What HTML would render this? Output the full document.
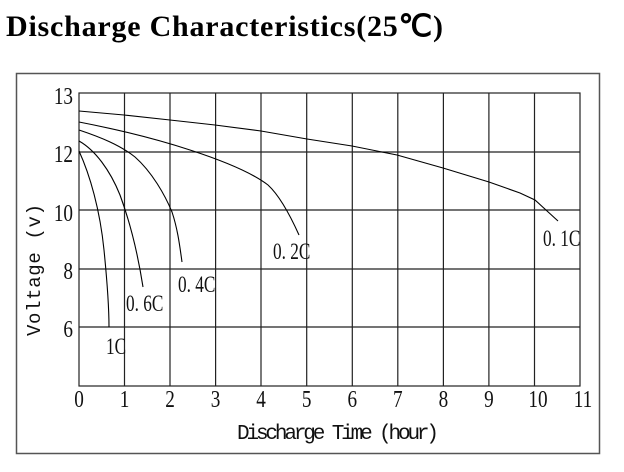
<!DOCTYPE html><html><head><style>body{margin:0;background:#fff}</style></head><body>
<svg width="624" height="467" xmlns="http://www.w3.org/2000/svg" font-family="Liberation Serif, serif">
<rect width="624" height="467" fill="#fff"/>
<text x="6" y="36" font-size="30" font-weight="bold" textLength="437">Discharge Characteristics(25℃)</text>
<rect x="16.5" y="73.5" width="583" height="380" fill="none" stroke="#555" stroke-width="1.5"/>
<g stroke="#222" stroke-width="1.2" fill="none">
<rect x="79" y="93" width="501" height="293"/>
<path d="M79 152H580M79 210H580M79 269H580M79 327H580"/>
<path d="M124.5 93V386M170 93V386M215.6 93V386M261 93V386M306.7 93V386M352.3 93V386M397.8 93V386M443.4 93V386M488.9 93V386M534.5 93V386"/>
</g>
<g stroke="#000" stroke-width="1.1" fill="none">
<path d="M79 111 L124 115 L170 120 L215 125 L261 131 L307 139 L352 146 L397 155 L443 168 L489 182 L520 193 L535 200 L558 221"/>
<path d="M79 122 C110 128 150 137 190 150 C230 163 255 175 268 185 C280 196 290 215 299 235"/>
<path d="M79 130 C100 137 120 145 135 157 C152 172 165 195 172 212 C178 230 180 248 182 262"/>
<path d="M79 141 C95 150 110 170 120 195 C130 222 138 255 143 287"/>
<path d="M79 151 C90 175 100 210 104 250 C107 280 109 305 109 327"/>
</g>
<g font-size="23" fill="#111">
<text transform="translate(273 259) scale(0.75 1)">0. 2C</text>
<text transform="translate(178 292) scale(0.75 1)">0. 4C</text>
<text transform="translate(126 311) scale(0.75 1)">0. 6C</text>
<text transform="translate(106 354) scale(0.75 1)">1C</text>
<text transform="translate(543 246) scale(0.75 1)">0. 1C</text>
</g>
<g font-size="24" fill="#111" text-anchor="end">
<text transform="translate(73 104) scale(0.8 1)">13</text><text transform="translate(73 162) scale(0.8 1)">12</text><text transform="translate(73 221) scale(0.8 1)">10</text><text transform="translate(73 279) scale(0.8 1)">8</text><text transform="translate(73 337) scale(0.8 1)">6</text>
</g>
<g font-size="24" fill="#111" text-anchor="middle">
<text transform="translate(79 407) scale(0.8 1)">0</text><text transform="translate(124.5 407) scale(0.8 1)">1</text><text transform="translate(170 407) scale(0.8 1)">2</text><text transform="translate(215.6 407) scale(0.8 1)">3</text><text transform="translate(261 407) scale(0.8 1)">4</text><text transform="translate(306.7 407) scale(0.8 1)">5</text><text transform="translate(352.3 407) scale(0.8 1)">6</text><text transform="translate(397.8 407) scale(0.8 1)">7</text><text transform="translate(443.4 407) scale(0.8 1)">8</text><text transform="translate(488.9 407) scale(0.8 1)">9</text><text transform="translate(538 407) scale(0.8 1)">10</text><text transform="translate(583 407) scale(0.8 1)">11</text>
</g>
<text x="338" y="439" font-size="21" fill="#111" text-anchor="middle" font-family="Liberation Mono, monospace" textLength="202">Discharge Time (hour)</text>
<text transform="translate(40 270) rotate(-90)" font-size="19" fill="#111" text-anchor="middle" font-family="Liberation Mono, monospace" textLength="132">Voltage (v)</text>
</svg>
</body></html>
